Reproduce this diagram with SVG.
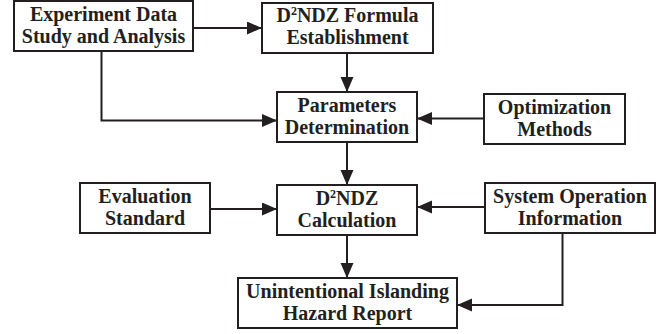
<svg xmlns="http://www.w3.org/2000/svg" width="669" height="334" viewBox="0 0 669 334">
  <style>
    .box { fill: #ffffff; stroke: #231f20; stroke-width: 2; }
    .lbl { font-family: "Liberation Serif", "Times New Roman", serif; font-weight: bold; font-size: 20px; fill: #231f20; text-anchor: middle; }
    .sup { font-size: 12px; }
    .conn { fill: none; stroke: #231f20; stroke-width: 2; }
  </style>
  <defs>
    <marker id="arr" markerUnits="userSpaceOnUse" markerWidth="16" markerHeight="14" refX="15" refY="6.5" orient="auto">
      <path d="M0,0 L15,6.5 L0,13 Z" fill="#231f20"/>
    </marker>
  </defs>
  <rect width="669" height="334" fill="#ffffff"/>

  <g id="connectors">
    <path class="conn" d="M193,28 L262,28" marker-end="url(#arr)"/>
    <path class="conn" d="M101.5,51 L101.5,120.5 L277,120.5" marker-end="url(#arr)"/>
    <path class="conn" d="M347,53 L347,92" marker-end="url(#arr)"/>
    <path class="conn" d="M484,118.5 L417,118.5" marker-end="url(#arr)"/>
    <path class="conn" d="M347,142 L347,185" marker-end="url(#arr)"/>
    <path class="conn" d="M210,209 L277,209" marker-end="url(#arr)"/>
    <path class="conn" d="M485,207 L417,207" marker-end="url(#arr)"/>
    <path class="conn" d="M347,235 L347,278" marker-end="url(#arr)"/>
    <path class="conn" d="M562.5,233 L562.5,305 L457,305" marker-end="url(#arr)"/>
  </g>

  <g id="experiment">
    <rect class="box" x="14" y="1" width="179" height="50"/>
    <text class="lbl" x="103.5" y="20.7">Experiment Data</text>
    <text class="lbl" x="103.5" y="42.7">Study and Analysis</text>
  </g>

  <g id="formula">
    <rect class="box" x="262" y="3" width="171" height="50"/>
    <text class="lbl" x="347.5" y="22.4">D<tspan class="sup" dy="-7">2</tspan><tspan dy="7">NDZ Formula</tspan></text>
    <text class="lbl" x="347.5" y="44.4">Establishment</text>
  </g>

  <g id="parameters">
    <rect class="box" x="277" y="92" width="140" height="50"/>
    <text class="lbl" x="347" y="111.7">Parameters</text>
    <text class="lbl" x="347" y="133.7">Determination</text>
  </g>

  <g id="optimization">
    <rect class="box" x="484" y="94" width="141" height="50"/>
    <text class="lbl" x="554.5" y="113.7">Optimization</text>
    <text class="lbl" x="554.5" y="135.7">Methods</text>
  </g>

  <g id="calculation">
    <rect class="box" x="277" y="185" width="140" height="50"/>
    <text class="lbl" x="347" y="204.7">D<tspan class="sup" dy="-7">2</tspan><tspan dy="7">NDZ</tspan></text>
    <text class="lbl" x="347" y="226.7">Calculation</text>
  </g>

  <g id="evaluation">
    <rect class="box" x="80" y="183" width="130" height="50"/>
    <text class="lbl" x="145" y="202.7">Evaluation</text>
    <text class="lbl" x="145" y="224.7">Standard</text>
  </g>

  <g id="sysop">
    <rect class="box" x="485" y="183" width="170" height="50"/>
    <text class="lbl" x="570" y="202.7">System Operation</text>
    <text class="lbl" x="570" y="224.7">Information</text>
  </g>

  <g id="report">
    <rect class="box" x="238" y="278" width="219" height="50"/>
    <text class="lbl" x="347.5" y="297.7">Unintentional Islanding</text>
    <text class="lbl" x="347.5" y="319.7">Hazard Report</text>
  </g>
</svg>
